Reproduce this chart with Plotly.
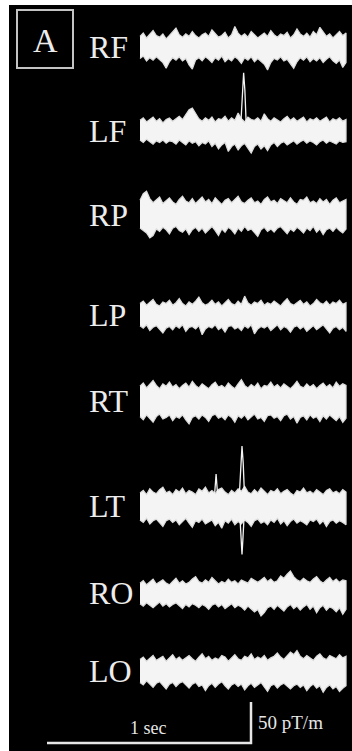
import numpy as np
import plotly.graph_objects as go

# ---------------- data (pT/m, relative to each channel baseline) ----------------
channels = ["RF", "LF", "RP", "LP", "RT", "LT", "RO", "LO"]
duration_s = 1.01

RF_up = [13,17,11,15,20,14,12,16,10,14, 18,23,15,12,16,13,19,14,11,15, 17,13,21,16,12,14,18,11,15,25,
         17,13,16,12,19,15,11,14,17,13, 20,15,12,16,14,18,11,15,22,16, 13,17,12,19,15,24,18,13,16,11, 15,19,14,17]
RF_lo = [-14,-11,-17,-13,-16,-12,-15,-19,-26,-18, -13,-16,-12,-17,-14,-22,-27,-16,-13,-17, -12,-15,-19,-13,-16,-11,-18,-14,-17,-12,
         -15,-20,-13,-16,-12,-18,-14,-17,-21,-28, -19,-14,-16,-12,-17,-15,-20,-26,-18,-13, -16,-12,-18,-14,-17,-13,-19,-15,-12,-17,
         -20,-16,-25,-19]
LF_up = [13,16,11,14,17,12,15,10,14,16, 12,15,18,14,20,26,28,21,15,12, 16,13,17,11,15,14,18,12,16,13,
         22,15,11,17,14,13,16,12,21,15, 12,16,14,11,15,18,13,16,12,14, 17,11,15,13,16,12,14,17,11,15, 13,16,12,14]
LF_lo = [-11,-14,-10,-13,-16,-12,-14,-11,-15,-12, -13,-16,-11,-14,-17,-12,-15,-13,-18,-14, -16,-12,-19,-15,-22,-17,-14,-25,-19,-16,
         -23,-18,-15,-21,-27,-19,-16,-22,-18,-24, -17,-14,-19,-15,-13,-17,-14,-12,-16,-13, -11,-15,-12,-14,-17,-13,-11,-15,-12,-14,
         -16,-12,-14,-13]
RP_up = [18,26,29,20,15,19,22,14,18,21, 16,13,19,23,17,15,20,14,18,22, 16,19,14,21,17,13,18,20,15,19,
         23,16,14,18,21,15,17,13,19,22, 16,18,14,20,17,15,21,16,13,19, 18,22,15,17,14,20,16,19,13,18, 21,15,17,19]
RP_lo = [-16,-19,-22,-28,-25,-17,-20,-15,-18,-23, -16,-14,-19,-21,-17,-24,-18,-15,-20,-16, -22,-18,-14,-19,-25,-17,-21,-15,-18,-23,
         -16,-20,-14,-19,-17,-22,-26,-18,-15,-20, -17,-21,-16,-14,-19,-23,-17,-20,-15,-18, -22,-16,-19,-14,-21,-17,-24,-18,-16,-20,
         -15,-19,-22,-17]
LP_up = [14,17,12,15,19,13,11,16,14,18, 12,15,20,14,11,16,13,17,22,15, 12,14,18,13,16,11,15,19,14,12,
         17,13,23,15,12,16,14,18,12,15, 13,17,14,11,16,20,14,12,15,18, 13,16,11,14,19,15,13,17,12,16, 14,18,13,15]
LP_lo = [-13,-16,-12,-19,-15,-13,-17,-22,-16,-14, -18,-13,-16,-12,-20,-15,-14,-17,-13,-24, -17,-14,-16,-12,-18,-15,-21,-14,-13,-17,
         -15,-19,-13,-16,-12,-23,-17,-14,-16,-13, -19,-15,-12,-18,-14,-16,-21,-15,-13,-17, -14,-20,-16,-13,-18,-15,-12,-17,-22,-16,
         -14,-18,-15,-20]
RT_up = [18,22,16,20,25,19,15,21,18,23, 17,20,15,19,22,17,24,19,16,21, 18,15,20,23,17,19,16,22,18,15,
         21,26,19,16,20,17,22,15,19,18, 23,17,20,16,21,18,15,19,24,18, 16,21,17,20,15,19,22,17,20,16, 23,18,21,19]
RT_lo = [-19,-23,-17,-21,-26,-19,-16,-22,-20,-17, -24,-19,-21,-17,-23,-28,-20,-18,-22,-17, -20,-25,-18,-16,-21,-19,-23,-17,-20,-26,
         -18,-21,-17,-23,-19,-16,-22,-20,-25,-18, -17,-21,-19,-24,-18,-16,-22,-19,-27,-20, -18,-23,-17,-21,-19,-25,-18,-22,-17,-20,
         -24,-19,-26,-21]
LT_up = [16,19,14,21,17,15,20,23,16,18, 14,20,17,22,15,19,17,14,21,18, 23,16,19,15,20,22,17,14,19,16,
         21,18,24,17,15,20,16,22,18,14, 19,17,21,15,18,20,16,13,19,17, 22,16,18,15,20,17,14,19,21,16, 18,15,20,17]
LT_lo = [-17,-20,-15,-22,-18,-16,-21,-25,-18,-16, -20,-17,-23,-19,-15,-21,-26,-18,-20,-16, -22,-19,-17,-24,-20,-27,-18,-21,-16,-23,
         -19,-22,-17,-20,-25,-18,-16,-21,-19,-23, -17,-20,-15,-22,-18,-24,-19,-16,-21,-18, -20,-23,-17,-19,-16,-22,-18,-25,-19,-17,
         -21,-18,-20,-23]
RO_up = [12,15,10,14,17,11,13,16,12,10, 14,18,12,15,11,13,17,20,14,12, 16,13,19,15,11,14,12,17,13,15,
         11,16,14,12,18,15,13,16,19,14, 17,13,15,21,18,23,27,20,16,14, 18,15,13,17,20,15,12,16,19,14, 17,13,16,15]
RO_lo = [-13,-16,-12,-15,-18,-14,-11,-16,-13,-17, -14,-12,-16,-19,-14,-17,-13,-15,-18,-14, -16,-20,-15,-13,-17,-14,-19,-16,-13,-18,
         -15,-17,-21,-16,-19,-23,-20,-28,-24,-18, -16,-20,-15,-18,-22,-17,-14,-19,-16,-21, -17,-14,-20,-16,-24,-18,-15,-21,-17,-19,
         -23,-18,-26,-20]
LO_up = [14,17,12,16,19,13,15,18,12,16, 20,14,17,13,16,19,15,12,17,21, 15,18,13,16,14,19,17,12,16,20,
         15,13,18,16,21,14,17,15,19,13, 16,18,22,17,14,19,23,20,25,18, 15,19,16,13,18,21,16,14,19,17, 15,20,16,18]
LO_lo = [-14,-17,-12,-16,-20,-15,-13,-18,-22,-16, -14,-19,-15,-13,-17,-21,-16,-14,-19,-17, -24,-18,-15,-20,-16,-13,-18,-22,-17,-15,
         -19,-16,-23,-18,-15,-20,-17,-14,-19,-25, -18,-16,-21,-17,-15,-19,-22,-18,-16,-20, -17,-24,-19,-16,-21,-18,-26,-20,-17,-22,
         -19,-25,-21,-18]

# spikes (time s, amplitude pT/m)
LF_spike_t = [0.495, 0.502, 0.508, 0.514, 0.520]
LF_spike_v = [12, 50, 71, 50, 12]
LT_spike_up_t = [0.487, 0.494, 0.500, 0.506, 0.512]
LT_spike_up_v = [14, 52, 73, 52, 14]
LT_spike_dn_t = [0.490, 0.496, 0.500, 0.504, 0.510]
LT_spike_dn_v = [-14, -42, -59, -42, -14]
LT_small_t = [0.366, 0.373, 0.380]
LT_small_v = [15, 39, 15]

scale_time_s = 1
scale_amp = 50  # pT/m

# ---------------- layout (pixel geometry of the panel) ----------------
W, H = 352, 751
PX_PER_S = 204.0
PX_PER_AMP = 41.0 / 50.0
X0_PX = 140.0  # where t=0 sits

def tx(px):
    return (px - X0_PX) / PX_PER_S

def vy(py):
    return -py / PX_PER_AMP

channel_center_px = [47, 131, 215, 315, 401, 506, 593, 671]
offsets = [vy(c) for c in channel_center_px]

env = {
    "RF": (RF_up, RF_lo), "LF": (LF_up, LF_lo), "RP": (RP_up, RP_lo), "LP": (LP_up, LP_lo),
    "RT": (RT_up, RT_lo), "LT": (LT_up, LT_lo), "RO": (RO_up, RO_lo), "LO": (LO_up, LO_lo),
}

WHITE = "#f4f4f4"
fig = go.Figure()

for name, off in zip(channels, offsets):
    up, lo = env[name]
    tu = np.linspace(0, duration_s, len(up))
    tl = np.linspace(0, duration_s, len(lo))
    xs = list(tu) + list(tl[::-1])
    ys = [off + v for v in up] + [off + v for v in lo[::-1]]
    fig.add_trace(go.Scatter(x=xs, y=ys, fill="toself", fillcolor=WHITE,
                             mode="lines", line=dict(color="#dcdcdc", width=1.2),
                             hoverinfo="skip", showlegend=False))

def spike(t, v, off):
    fig.add_trace(go.Scatter(x=t, y=[off + a for a in v], mode="lines",
                             line=dict(color=WHITE, width=1.3),
                             hoverinfo="skip", showlegend=False))

spike(LF_spike_t, LF_spike_v, offsets[channels.index("LF")])
lt_off = offsets[channels.index("LT")]
spike(LT_spike_up_t, LT_spike_up_v, lt_off)
spike(LT_spike_dn_t, LT_spike_dn_v, lt_off)
spike(LT_small_t, LT_small_v, lt_off)

# scale bar
bar_t0 = tx(47)
bar_y = vy(743)
fig.add_trace(go.Scatter(
    x=[bar_t0, bar_t0 + scale_time_s, bar_t0 + scale_time_s],
    y=[bar_y, bar_y, bar_y + scale_amp],
    mode="lines", line=dict(color="#e6e6e6", width=2.5),
    hoverinfo="skip", showlegend=False))

annotations = []
for name, off in zip(channels, offsets):
    annotations.append(dict(x=tx(87), y=off, xref="x", yref="y", text=name,
                            showarrow=False, xanchor="left", yanchor="middle",
                            font=dict(family="Liberation Serif", size=32, color="#ececec")))
annotations.append(dict(x=tx(148), y=vy(728), xref="x", yref="y", text="1 sec",
                        showarrow=False, xanchor="center", yanchor="middle",
                        font=dict(family="Liberation Serif", size=18, color="#e6e6e6")))
annotations.append(dict(x=tx(256), y=vy(722), xref="x", yref="y", text="50 pT/m",
                        showarrow=False, xanchor="left", yanchor="middle",
                        font=dict(family="Liberation Serif", size=19, color="#e6e6e6")))
annotations.append(dict(x=tx(45), y=vy(40), xref="x", yref="y", text="A",
                        showarrow=False, xanchor="center", yanchor="middle",
                        font=dict(family="Liberation Serif", size=34, color="#ececec")))

shapes = [dict(type="rect", xref="x", yref="y", x0=tx(17), x1=tx(73), y0=vy(68), y1=vy(10),
               line=dict(color="#c4c4c4", width=2))]

fig.update_layout(
    width=W, height=H,
    margin=dict(l=9, r=0, t=5, b=0),
    paper_bgcolor="white", plot_bgcolor="black",
    xaxis=dict(range=[tx(9), tx(352)], visible=False, fixedrange=True),
    yaxis=dict(range=[vy(751), vy(5)], visible=False, fixedrange=True),
    annotations=annotations, shapes=shapes,
    showlegend=False,
)

fig.write_html("out.html")
